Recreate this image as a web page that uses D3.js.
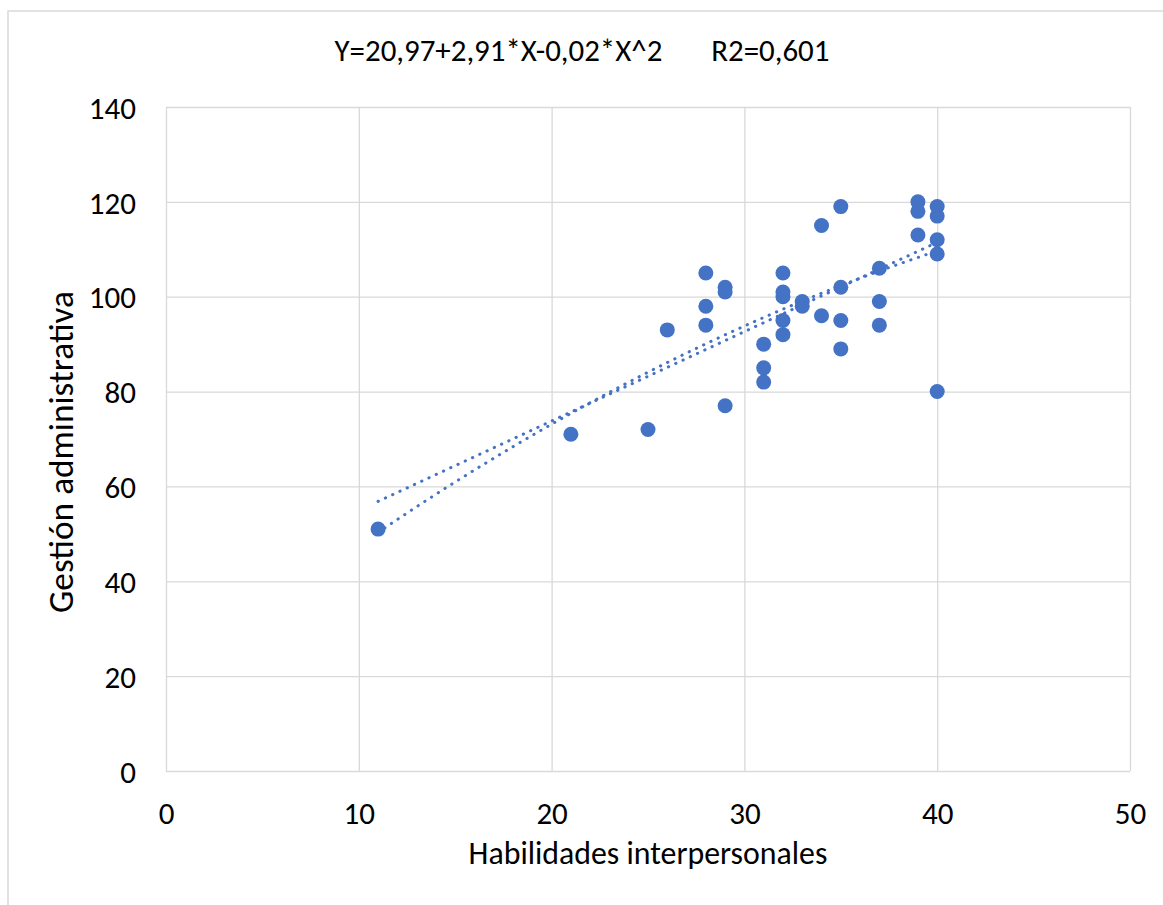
<!DOCTYPE html>
<html>
<head>
<meta charset="utf-8">
<script src="https://cdn.jsdelivr.net/npm/d3@7"></script>
<style>
    body { margin: 0; background: #fff; }
    text { font-family: Calibri, Carlito, Lato, sans-serif; fill: #000; }
</style>
</head>
<body>
<svg id="chart"></svg>
<script>
var width = 1163;
var height = 905;

// Data (Habilidades interpersonales vs Gestión administrativa)
var habilidades = [11, 21, 25, 26, 28, 28, 28, 29, 29, 29, 31, 31, 31, 32, 32, 32, 32, 32,
    33, 33, 34, 34, 35, 35, 35, 35, 37, 37, 37, 39, 39, 39, 40, 40, 40, 40, 40];
var gestion = [51, 71, 72, 93, 105, 98, 94, 102, 101, 77, 90, 85, 82, 105, 101, 100, 95, 92,
    99, 98, 115, 96, 119, 102, 95, 89, 106, 99, 94, 120, 118, 113, 119, 117, 112, 109, 80];

var xTicks = [0, 10, 20, 30, 40, 50];
var yTicks = [0, 20, 40, 60, 80, 100, 120, 140];
var chartTitle = "Y=20,97+2,91*X-0,02*X^2       R2=0,601";
var xTitle = "Habilidades interpersonales";
var yTitle = "Gestión administrativa";

var blue = "#4472C4";
var grid = "#d9d9d9";

var margin = { top: 107, right: 33, bottom: 134, left: 166 };
var plotW = width - margin.left - margin.right;
var plotH = height - margin.top - margin.bottom;

var svg = d3.select("#chart")
    .attr("width", width)
    .attr("height", height);

// chart area border (cropped on right and bottom)
svg.append("rect")
    .attr("x", 8)
    .attr("y", 11)
    .attr("width", 1200)
    .attr("height", 1000)
    .attr("fill", "none")
    .attr("stroke", grid)
    .attr("stroke-width", 1.5);

var x = d3.scaleLinear().domain([0, 50]).range([0, plotW]);
var y = d3.scaleLinear().domain([0, 140]).range([plotH, 0]);

var g = svg.append("g")
    .attr("transform", "translate(" + margin.left + "," + margin.top + ")");

// gridlines
g.append("g")
    .call(d3.axisLeft(y).tickValues(yTicks).tickSize(-plotW).tickFormat(""))
    .call(function (s) { s.select(".domain").remove(); })
    .selectAll("line").attr("stroke", grid).attr("stroke-width", 1.3);

g.append("g")
    .attr("transform", "translate(0," + plotH + ")")
    .call(d3.axisBottom(x).tickValues(xTicks).tickSize(-plotH).tickFormat(""))
    .call(function (s) { s.select(".domain").remove(); })
    .selectAll("line").attr("stroke", grid).attr("stroke-width", 1.3);

// tick labels
var yAxis = g.append("g")
    .call(d3.axisLeft(y).tickValues(yTicks).tickSize(0).tickPadding(30));
yAxis.select(".domain").remove();
yAxis.selectAll("text").style("font-size", "31px").attr("dy", "0.36em");

var xAxis = g.append("g")
    .attr("transform", "translate(0," + plotH + ")")
    .call(d3.axisBottom(x).tickValues(xTicks).tickSize(0).tickPadding(42));
xAxis.select(".domain").remove();
xAxis.selectAll("text").style("font-size", "31px").attr("dy", "0.36em");

// least squares fits, as Excel trendlines do
function polyFit(xs, ys, degree) {
    var n = degree + 1;
    var A = [];
    for (var i = 0; i < n; i++) {
        A.push([]);
        for (var j = 0; j <= n; j++) A[i].push(0);
    }
    xs.forEach(function (xv, k) {
        for (var i = 0; i < n; i++) {
            for (var j = 0; j < n; j++) A[i][j] += Math.pow(xv, i + j);
            A[i][n] += ys[k] * Math.pow(xv, i);
        }
    });
    for (var c = 0; c < n; c++) {
        for (var r = c + 1; r < n; r++) {
            var f = A[r][c] / A[c][c];
            for (var j = c; j <= n; j++) A[r][j] -= f * A[c][j];
        }
    }
    var coef = new Array(n).fill(0);
    for (var r = n - 1; r >= 0; r--) {
        var s = A[r][n];
        for (var j = r + 1; j < n; j++) s -= A[r][j] * coef[j];
        coef[r] = s / A[r][r];
    }
    return coef;
}

var xMin = d3.min(habilidades);
var xMax = d3.max(habilidades);
var xs = d3.range(xMin, xMax + 0.001, 0.25);

var line = d3.line()
    .x(function (d) { return x(d[0]); })
    .y(function (d) { return y(d[1]); });

[1, 2].forEach(function (deg) {
    var c = polyFit(habilidades, gestion, deg);
    var pts = xs.map(function (xv) {
        var v = 0;
        c.forEach(function (ci, i) { v += ci * Math.pow(xv, i); });
        return [xv, v];
    });
    g.append("path")
        .datum(pts)
        .attr("d", line)
        .attr("fill", "none")
        .attr("stroke", blue)
        .attr("stroke-width", 3)
        .attr("stroke-linecap", "round")
        .attr("stroke-dasharray", "0.3 7.7");
});

// points
g.selectAll(".dot")
    .data(habilidades)
    .enter().append("circle")
    .attr("class", "dot")
    .attr("cx", function (d) { return x(d); })
    .attr("cy", function (d, i) { return y(gestion[i]); })
    .attr("r", 7.5)
    .attr("fill", blue);

// size a text so it spans the same width as in the original
function fitWidth(sel, target) {
    var w = sel.node().getComputedTextLength();
    var fs = parseFloat(sel.style("font-size"));
    sel.style("font-size", (fs * target / w) + "px");
}

// titles
svg.append("text")
    .attr("x", 582)
    .attr("y", 61)
    .attr("text-anchor", "middle")
    .style("font-size", "31px")
    .style("white-space", "pre")
    .text(chartTitle)
    .call(fitWidth, 495);

svg.append("text")
    .attr("x", margin.left + plotW / 2)
    .attr("y", 864)
    .attr("text-anchor", "middle")
    .style("font-size", "30px")
    .text(xTitle)
    .call(fitWidth, 359);

svg.append("text")
    .attr("transform", "translate(73,452) rotate(-90)")
    .attr("text-anchor", "middle")
    .style("font-size", "30px")
    .text(yTitle)
    .call(fitWidth, 322);
</script>
</body>
</html>
